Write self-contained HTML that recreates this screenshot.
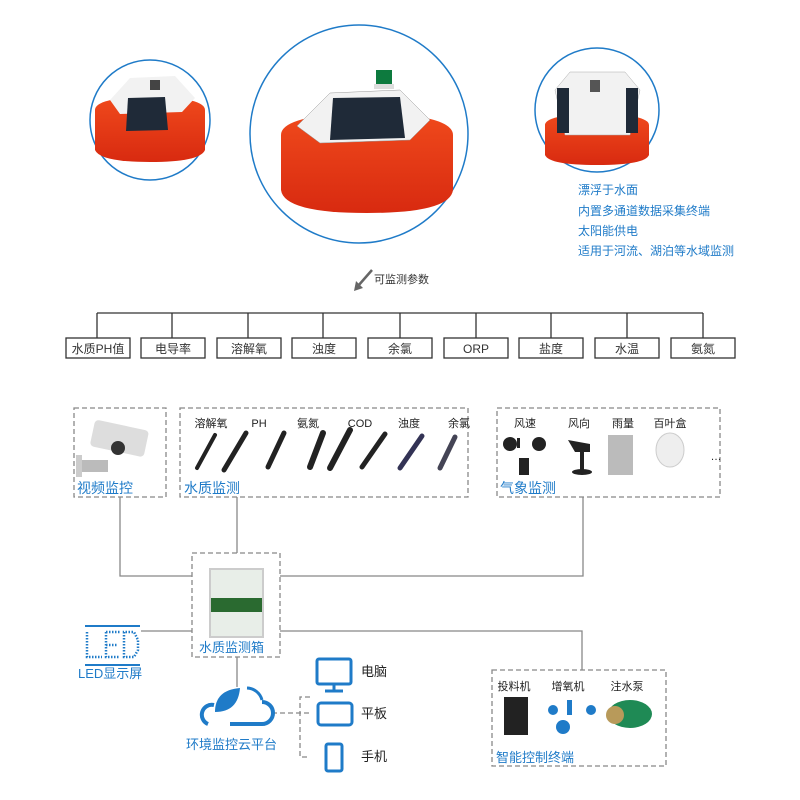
<!DOCTYPE html>
<html><head><meta charset="utf-8"><style>
body{margin:0;background:#fff;}
svg{display:block;font-family:"Liberation Sans","Noto Sans CJK SC",sans-serif;}
</style></head><body>
<svg width="800" height="800" viewBox="0 0 800 800" xmlns="http://www.w3.org/2000/svg">
<defs>
<linearGradient id="red" x1="0" x2="0" y1="0" y2="1"><stop offset="0" stop-color="#f04a1c"/><stop offset="1" stop-color="#d82a10"/></linearGradient>
</defs>
<!-- circles -->
<circle cx="150" cy="120" r="60" fill="#fff" stroke="#1f7bc8" stroke-width="1.5"/>
<circle cx="359" cy="134" r="109" fill="#fff" stroke="#1f7bc8" stroke-width="1.5"/>
<circle cx="597" cy="110" r="62" fill="#fff" stroke="#1f7bc8" stroke-width="1.5"/>
<!-- middle buoy -->
<g>
<path d="M281 135 Q281 115 367 112 Q453 115 453 135 L453 190 Q450 213 367 213 Q284 213 281 190 Z" fill="url(#red)"/>
<polygon points="297,126 330,93 400,90 430,120 410,140 320,143" fill="#f2f2f2" stroke="#999" stroke-width="0.5"/>
<polygon points="333,98 400,97 405,138 330,140" fill="#1f2a38"/>
<rect x="376" y="70" width="16" height="16" fill="#0d7a3e"/>
<rect x="374" y="84" width="20" height="5" fill="#ddd"/>
</g>
<!-- left buoy -->
<g>
<path d="M95 110 Q95 98 150 96 Q205 98 205 110 L205 150 Q200 162 150 162 Q100 162 95 150 Z" fill="url(#red)"/>
<polygon points="110,100 130,78 175,76 195,98 182,112 120,114" fill="#f2f2f2"/>
<polygon points="128,98 165,97 168,130 126,131" fill="#1f2a38"/>
<rect x="150" y="80" width="10" height="10" fill="#444"/>
</g>
<!-- right buoy -->
<g>
<path d="M545 125 Q545 115 597 113 Q649 115 649 125 L649 155 Q645 165 597 165 Q549 165 545 155 Z" fill="url(#red)"/>
<polygon points="555,90 570,72 625,72 640,90 630,135 565,135" fill="#f2f2f2" stroke="#aaa" stroke-width="0.5"/>
<rect x="557" y="88" width="12" height="45" fill="#1f2a38"/>
<rect x="626" y="88" width="12" height="45" fill="#1f2a38"/>
<rect x="590" y="80" width="10" height="12" fill="#555"/>
</g>
<!-- right text -->
<g fill="#1f7bc8" font-size="12">
<text x="578" y="194">漂浮于水面</text>
<text x="578" y="215">内置多通道数据采集终端</text>
<text x="578" y="235">太阳能供电</text>
<text x="578" y="255">适用于河流、湖泊等水域监测</text>
</g>
<!-- arrow -->
<line x1="372" y1="270" x2="358" y2="286" stroke="#666" stroke-width="2.5"/>
<polygon points="354,291 356,281 363,288" fill="#666"/>
<text x="374" y="283" font-size="11" fill="#333">可监测参数</text>
<!-- tree -->
<g stroke="#333" stroke-width="1.3" fill="none">
<line x1="97" y1="313" x2="703" y2="313"/>
<line x1="97" y1="313" x2="97" y2="338"/><line x1="172" y1="313" x2="172" y2="338"/>
<line x1="248" y1="313" x2="248" y2="338"/><line x1="323" y1="313" x2="323" y2="338"/>
<line x1="400" y1="313" x2="400" y2="338"/><line x1="476" y1="313" x2="476" y2="338"/>
<line x1="551" y1="313" x2="551" y2="338"/><line x1="627" y1="313" x2="627" y2="338"/>
<line x1="703" y1="313" x2="703" y2="338"/>
<rect x="66" y="338" width="64" height="20"/><rect x="141" y="338" width="64" height="20"/>
<rect x="217" y="338" width="64" height="20"/><rect x="292" y="338" width="64" height="20"/>
<rect x="368" y="338" width="64" height="20"/><rect x="444" y="338" width="64" height="20"/>
<rect x="519" y="338" width="64" height="20"/><rect x="595" y="338" width="64" height="20"/>
<rect x="671" y="338" width="64" height="20"/>
</g>
<g font-size="12" fill="#333" text-anchor="middle">
<text x="98" y="353">水质PH值</text><text x="173" y="353">电导率</text><text x="249" y="353">溶解氧</text>
<text x="324" y="353">浊度</text><text x="400" y="353">余氯</text><text x="476" y="353">ORP</text>
<text x="551" y="353">盐度</text><text x="627" y="353">水温</text><text x="703" y="353">氨氮</text>
</g>
<!-- dashed boxes -->
<g stroke="#888" stroke-width="1.3" fill="none" stroke-dasharray="5,3">
<rect x="74" y="408" width="92" height="89"/>
<rect x="180" y="408" width="288" height="89"/>
<rect x="497" y="408" width="223" height="89"/>
<rect x="192" y="553" width="88" height="104"/>
<rect x="492" y="670" width="174" height="96"/>
<polyline points="310,697 300,697 300,757 310,757"/>
<line x1="272" y1="713" x2="312" y2="713"/>
</g>
<!-- solid connectors -->
<g stroke="#888" stroke-width="1.3" fill="none">
<polyline points="120,497 120,576 192,576"/>
<line x1="237" y1="497" x2="237" y2="553"/>
<polyline points="583,497 583,576 280,576"/>
<polyline points="280,631 582,631 582,670"/>
<line x1="141" y1="631" x2="192" y2="631"/>
<line x1="237" y1="657" x2="237" y2="687"/>
</g>
<!-- camera -->
<g>
<rect x="92" y="425" width="55" height="27" rx="4" fill="#ddd" transform="rotate(12 120 438)"/>
<circle cx="118" cy="448" r="7" fill="#333"/>
<rect x="78" y="460" width="30" height="12" fill="#bbb"/>
<rect x="76" y="455" width="6" height="22" fill="#ccc"/>
</g>
<!-- sensors -->
<g stroke="#222" stroke-width="4" stroke-linecap="round">
<line x1="215" y1="435" x2="197" y2="468"/>
<line x1="246" y1="433" x2="224" y2="470" stroke-width="5"/>
<line x1="284" y1="433" x2="268" y2="467" stroke-width="5"/>
<line x1="323" y1="433" x2="310" y2="467" stroke-width="6"/>
<line x1="350" y1="430" x2="330" y2="468" stroke-width="6"/>
<line x1="385" y1="434" x2="362" y2="467" stroke-width="5"/>
</g>
<g font-size="11" fill="#222" text-anchor="middle">
<text x="211" y="427">溶解氧</text><text x="259" y="427">PH</text><text x="308" y="427">氨氮</text>
<text x="320" y="427" dx="40">COD</text><text x="409" y="427">浊度</text><text x="459" y="427">余氯</text>
<text x="525" y="427">风速</text><text x="579" y="427">风向</text><text x="623" y="427">雨量</text><text x="670" y="427">百叶盒</text>
<text x="716" y="460">…</text>
</g>
<g stroke="#222" stroke-width="5" stroke-linecap="round">
<line x1="400" y1="468" x2="422" y2="436" stroke="#335"/>
<line x1="440" y1="468" x2="455" y2="437" stroke="#445"/>
</g>
<!-- weather -->
<g fill="#222">
<circle cx="510" cy="444" r="7"/><circle cx="539" cy="444" r="7"/><rect x="519" y="458" width="10" height="17"/>
<rect x="517" y="438" width="3" height="10"/>
<polygon points="568,440 590,444 590,452 575,452"/><rect x="580" y="452" width="4" height="20"/><ellipse cx="582" cy="472" rx="10" ry="3"/>
<rect x="608" y="435" width="25" height="40" fill="#bbb"/>
</g>
<ellipse cx="670" cy="450" rx="14" ry="17" fill="#eee" stroke="#ccc"/>
<g fill="#1f7bc8" font-size="14">
<text x="77" y="493">视频监控</text>
<text x="184" y="493">水质监测</text>
<text x="500" y="493">气象监测</text>
<text x="199" y="652" font-size="13">水质监测箱</text>
<text x="78" y="678" font-size="13">LED显示屏</text>
<text x="186" y="749" font-size="13">环境监控云平台</text>
<text x="496" y="762" font-size="13">智能控制终端</text>
</g>
<!-- monitoring box -->
<rect x="209" y="568" width="55" height="70" fill="#ccc"/>
<rect x="211" y="570" width="51" height="66" fill="#e8eee8"/>
<rect x="211" y="598" width="51" height="14" fill="#2a6a30"/>
<!-- LED -->
<g stroke="#1f7bc8" fill="none">
<line x1="85" y1="626" x2="140" y2="626" stroke-width="2"/>
<line x1="85" y1="665" x2="140" y2="665" stroke-width="2"/>
<path d="M87 632 V657 H102 M106 632 V657 H120 M106 632 H120 M106 645 H118 M124 632 V657 H134 L138 650 V640 L134 632 Z" stroke-width="2.5" stroke-dasharray="1.5,1.5"/>
</g>
<!-- cloud -->
<g fill="none" stroke="#1f7bc8" stroke-width="4">
<path d="M208 724 A10 10 0 0 1 214 705 M230 724 H262 A11 11 0 0 0 262 702"/>
<path d="M247 688 A16 16 0 0 1 262 700" stroke-width="3"/>
</g>
<path d="M215 712 Q215 690 240 688 Q238 712 215 712 Z" fill="#1f7bc8"/>
<!-- devices -->
<g fill="none" stroke="#1f7bc8" stroke-width="3">
<rect x="317" y="659" width="34" height="25" rx="2"/>
<line x1="334" y1="684" x2="334" y2="690"/><line x1="325" y1="691" x2="343" y2="691"/>
<rect x="318" y="703" width="34" height="22" rx="3"/>
<rect x="326" y="744" width="16" height="27" rx="2"/>
</g>
<g font-size="13" fill="#222">
<text x="361" y="676">电脑</text><text x="361" y="718">平板</text><text x="361" y="761">手机</text>
</g>
<!-- control devices -->
<g font-size="11" fill="#222" text-anchor="middle">
<text x="514" y="690">投料机</text><text x="568" y="690">增氧机</text><text x="627" y="690">注水泵</text>
</g>
<rect x="504" y="697" width="24" height="38" fill="#222"/>
<g fill="#1f7bc8"><circle cx="553" cy="710" r="5"/><circle cx="591" cy="710" r="5"/><circle cx="563" cy="727" r="7"/><rect x="567" y="700" width="5" height="15"/></g>
<ellipse cx="630" cy="714" rx="22" ry="14" fill="#1f8a55"/>
<circle cx="615" cy="715" r="9" fill="#b89a5a"/>
</svg>
</body></html>
